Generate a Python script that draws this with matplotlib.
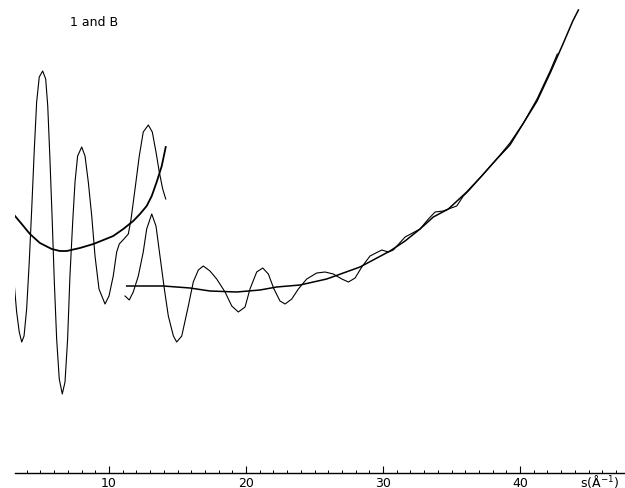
import matplotlib
matplotlib.use("Agg")
import matplotlib.pyplot as plt
from matplotlib.ticker import MultipleLocator

# molecular intensity, first camera distance (s in 1/Angstrom, arbitrary intensity)
s_a = [3.07, 3.26, 3.45, 3.63, 3.80, 3.99, 4.18, 4.36, 4.55, 4.72, 4.91, 5.16, 5.38, 5.53,
       5.69, 5.86, 6.01, 6.18, 6.37, 6.59, 6.79, 6.98, 7.15, 7.35, 7.52, 7.71, 8.01, 8.25,
       8.49, 8.74, 8.98, 9.27, 9.71, 10.0, 10.31, 10.56, 10.75, 11.09, 11.41, 11.61, 11.90,
       12.21, 12.50, 12.87, 13.16, 13.43, 13.67, 13.92, 14.14]
i_a = [19.1, 16.1, 14.1, 13.1, 13.7, 16.4, 21.1, 26.4, 32.4, 37.1, 39.6, 40.2, 39.4, 36.7,
       31.4, 25.1, 19.1, 13.4, 9.4, 7.9, 9.1, 13.4, 19.7, 25.1, 29.1, 31.7, 32.6, 31.7,
       29.1, 25.7, 21.7, 18.4, 16.9, 17.7, 19.7, 22.1, 22.9, 23.4, 23.9, 25.4, 28.4,
       31.7, 34.1, 34.8, 34.1, 32.1, 30.1, 28.4, 27.4]

bg_s_a = [3.14, 3.63, 4.23, 4.96, 5.82, 6.42, 6.91, 7.88, 8.86, 9.59, 10.31, 11.04,
          11.77, 12.26, 12.75, 13.12, 13.48, 13.85, 14.14]
bg_i_a = [25.7, 24.9, 23.9, 23.0, 22.4, 22.2, 22.2, 22.5, 22.9, 23.3, 23.7, 24.4,
          25.2, 25.9, 26.7, 27.7, 29.1, 30.7, 32.6]

# second camera distance
s_b = [11.17, 11.48, 11.77, 12.14, 12.50, 12.75, 13.12, 13.43, 13.72, 14.04, 14.33, 14.70,
       14.94, 15.31, 15.79, 16.15, 16.52, 16.88, 17.37, 17.86, 18.47, 18.96, 19.44, 19.93,
       20.29, 20.78, 21.22, 21.63, 22.04, 22.48, 22.85, 23.34, 23.82, 24.43, 25.16, 25.77,
       26.37, 26.99, 27.48, 27.96, 28.45, 29.05, 29.91, 30.39, 30.75, 31.61, 32.70, 33.31,
       33.80, 34.40, 34.77, 35.38, 35.86, 36.23, 37.20, 38.30, 39.26, 40.25, 41.24, 42.23,
       42.72]
i_b = [17.7, 17.3, 18.1, 19.7, 22.1, 24.4, 25.9, 24.7, 21.7, 18.4, 15.7, 13.7,
       13.1, 13.7, 16.7, 19.1, 20.3, 20.7, 20.2, 19.4, 18.1, 16.7, 16.1, 16.6,
       18.4, 20.1, 20.5, 19.9, 18.4, 17.2, 16.9, 17.4, 18.4, 19.4, 20.0, 20.1,
       19.9, 19.4, 19.1, 19.5, 20.6, 21.7, 22.3, 22.1, 22.3, 23.6, 24.4, 25.4,
       26.1, 26.2, 26.4, 26.7, 27.7, 28.2, 29.7, 31.4, 33.0, 35.0, 37.4, 40.3,
       41.9]

bg_s_b = [11.29, 12.50, 13.96, 15.91, 17.37, 19.32, 21.02, 22.24, 23.94, 25.89, 28.32,
          30.51, 31.61, 32.70, 33.67, 34.77, 36.11, 37.20, 38.30, 39.26, 40.25, 41.24,
          42.23, 43.10, 43.85, 44.26]
bg_i_b = [18.7, 18.7, 18.7, 18.5, 18.2, 18.1, 18.3, 18.6, 18.8, 19.4, 20.6,
          22.2, 23.2, 24.4, 25.6, 26.4, 28.1, 29.7, 31.4, 32.8, 35.0, 37.2,
          40.1, 42.8, 45.2, 46.3]

major_ticks = [10, 20, 30, 40]


def main():
    fig = plt.figure(figsize=(6.25, 4.89), dpi=100)
    ax = fig.add_axes([15 / 625, 15 / 489, 1 - 15 / 625, 1 - 15 / 489])

    ax.plot(s_a, i_a, color="black", lw=0.8)
    ax.plot(bg_s_a, bg_i_a, color="black", lw=1.3)
    ax.plot(s_b, i_b, color="black", lw=0.8)
    ax.plot(bg_s_b, bg_i_b, color="black", lw=1.1)

    ax.set_xlim(3.14, 47.66)
    ax.set_ylim(0, 47.4)
    for side in ("top", "right", "left"):
        ax.spines[side].set_visible(False)
    ax.spines["bottom"].set_linewidth(1.0)
    ax.set_yticks([])
    ax.set_xticks(major_ticks)
    ax.xaxis.set_minor_locator(MultipleLocator(1))
    ax.tick_params(axis="x", which="major", direction="in", length=5, width=0.8,
                   labelsize=9, pad=2)
    ax.tick_params(axis="x", which="minor", direction="in", length=2.5, width=0.7)

    fig.text(600 / 625, 1 - 482 / 489, "s(Å$^{-1}$)", ha="center", va="center", fontsize=9)
    fig.text(70 / 625, 1 - 23 / 489, "1 and B", ha="left", va="center", fontsize=9)

    fig.savefig("out.png", dpi=100)


if __name__ == "__main__":
    main()
